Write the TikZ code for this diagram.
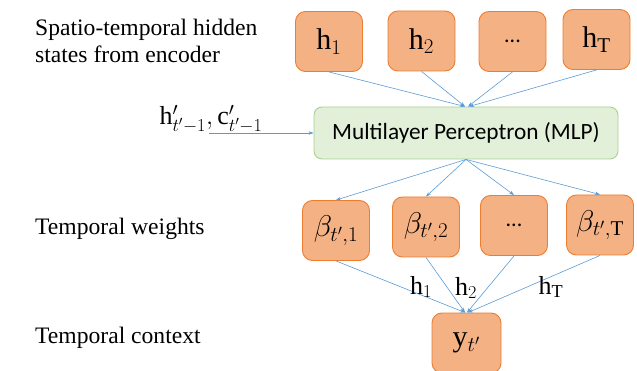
\documentclass[tikz,border=0pt]{standalone}
\usepackage{fix-cm}
\usepackage{fontspec}
\setmainfont{Liberation Serif}
\newfontfamily\mlpfont{Carlito}
\usetikzlibrary{arrows.meta}

\definecolor{boxfill}{HTML}{F4B183}
\definecolor{boxline}{HTML}{ED7D31}
\definecolor{mlpfill}{HTML}{E2F0D9}
\definecolor{mlpline}{HTML}{A9D18E}
\definecolor{flowblue}{HTML}{5B9BD5}

\tikzset{
	hbox/.style={draw=boxline, fill=boxfill, line width=0.9pt, rounded corners=10pt,
		minimum width=67pt, minimum height=60pt, inner sep=0pt,
		font=\fontsize{30}{34}\selectfont},
	dotbox/.style={hbox, font=\mlpfont\fontsize{22}{26}\selectfont},
	mlpbox/.style={draw=mlpline, fill=mlpfill, line width=0.9pt, rounded corners=8pt,
		minimum width=304pt, minimum height=52pt, inner sep=0pt,
		font=\mlpfont\fontsize{23.3}{28}\selectfont},
	flow/.style={draw=flowblue, line width=0.6pt, -{Stealth[length=5pt,width=3.5pt]}},
	sidetext/.style={align=left, anchor=base west, inner sep=0pt,
		font=\fontsize{23.6}{27}\selectfont},
	flowlabel/.style={inner sep=0pt, font=\fontsize{26}{30}\selectfont},
}

\begin{document}
\begin{tikzpicture}[x=1pt, y=-1pt]
	%\draw[help lines] (0,0) grid (637,371);
	\useasboundingbox (0,0) rectangle (637,371);
	
	% left column
	\node[sidetext] (encText) at (35,63) {Spatio-temporal hidden\\states from encoder};
	\node[sidetext] (weightText) at (35,235) {Temporal weights};
	\node[sidetext] (contextText) at (35,343) {Temporal context};
	
	% hidden states
	\node[hbox] (h1) at (329,41.5) {$\mathrm{h}_1$};
	\node[hbox] (h2) at (421.5,41) {$\mathrm{h}_2$};
	\node[dotbox] (hdots) at (512.5,41.5) {...};
	\node[hbox] (hT) at (596.5,39.5) {$\mathrm{h}_\mathrm{T}$};
	
	% MLP
	\node[mlpbox] (mlp) at (466,133) {Multilayer Perceptron (MLP)};
	\node[flowlabel] (prevState) at (211,119) {$\mathrm{h}'_{t'-1},\mathrm{c}'_{t'-1}$};
	\coordinate (inStart) at (209,133);
	
	% weights
	\node[hbox] (b1) at (336,230.5) {$\beta_{t',1}$};
	\node[hbox] (b2) at (426,227) {$\beta_{t',2}$};
	\node[dotbox] (bdots) at (514,225.5) {...};
	\node[hbox] (bT) at (600,225) {$\beta_{t',\mathrm{T}}$};
	
	% context
	\node[hbox, minimum width=69pt] (yt) at (466.5,343) {$\mathrm{y}_{t'}$};
	
	% edges
	\draw[flow] (h1.south) -- ([xshift=-1pt]mlp.north);
	\draw[flow] (h2.south) -- ([xshift=-1pt]mlp.north);
	\draw[flow] (hdots.south) -- ([xshift=2pt]mlp.north);
	\draw[flow] (hT.south) -- ([xshift=3pt]mlp.north);
	
	\draw[flow] (inStart) -- (mlp.west);
	
	\draw[flow] (mlp.south) -- (b1.north);
	\draw[flow] (mlp.south) -- (b2.north);
	\draw[flow] (mlp.south) -- (bdots.north);
	\draw[flow] (mlp.south) -- (bT.north);
	
	\draw[flow] (b1.south) -- ([xshift=-1.5pt]yt.north);
	\draw[flow] (b2.south) -- ([xshift=-1.5pt]yt.north);
	\draw[flow] (bdots.south) -- ([xshift=0.5pt]yt.north);
	\draw[flow] (bT.south) -- ([xshift=1.5pt]yt.north);
	
	\node[flowlabel] (w1) at (421,287) {$\mathrm{h}_1$};
	\node[flowlabel] (w2) at (466,288) {$\mathrm{h}_2$};
	\node[flowlabel] (wT) at (551,287) {$\mathrm{h}_\mathrm{T}$};
\end{tikzpicture}
\end{document}
